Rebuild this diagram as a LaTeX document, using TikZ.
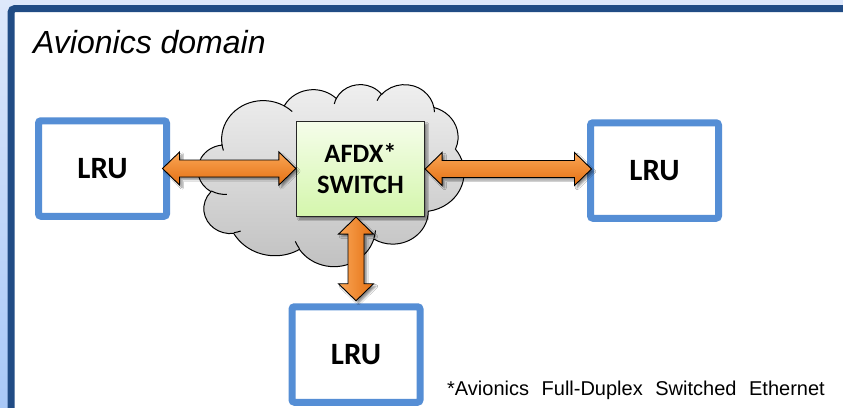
\documentclass[tikz,border=0pt]{standalone}
\usepackage{fontspec}
\newfontfamily\calib{Carlito}
\newfontfamily\arialf{Liberation Sans}
\usetikzlibrary{calc,shadows.blur}

\definecolor{framebl}{RGB}{33,76,133}
\definecolor{bgtop}{RGB}{222,232,251}
\definecolor{bgbot}{RGB}{168,200,247}
\definecolor{lrubl}{RGB}{85,142,213}
\definecolor{orgtop}{RGB}{250,166,86}
\definecolor{orgbot}{RGB}{228,112,18}
\definecolor{swtop}{RGB}{245,253,234}
\definecolor{swbot}{RGB}{212,246,172}
\definecolor{cldtop}{RGB}{240,240,240}
\definecolor{cldbot}{RGB}{192,192,192}

\tikzset{
  lrubox/.style={draw=lrubl, line width=7pt, rounded corners=2.5pt, fill=white,
    minimum width=128pt, minimum height=95.5pt, inner sep=0pt, outer sep=0pt,
    font=\calib\bfseries\fontsize{31}{36}\selectfont},
  switchbox/.style={draw=black!85, line width=1.2pt, top color=swtop, bottom color=swbot,
    minimum width=128pt, minimum height=95pt, inner sep=0pt, align=center,
    font=\calib\bfseries\fontsize{26.5}{31}\selectfont,
    blur shadow={shadow xshift=2.5pt, shadow yshift=-2.5pt, shadow opacity=45, shadow blur steps=6}},
  blockarrow/.style={draw=black, line width=0.9pt, line join=miter,
    blur shadow={shadow xshift=2.5pt, shadow yshift=-2.5pt, shadow opacity=45, shadow blur steps=6}},
  harrowfill/.style={top color=orgtop, bottom color=orgbot},
  varrowfill/.style={left color=orgtop, right color=orgbot},
  cloudshape/.style={draw=black, line width=1pt, top color=cldtop, bottom color=cldbot},
  cloudline/.style={draw=black, line width=1pt},
}

% double-headed block arrow between two points (horizontal / vertical)
\newcommand\hblockarrow[2]{%
  \path[blockarrow,harrowfill] let \p1=(#1), \p2=(#2) in
    (\x1,\y1) -- (\x1+17pt,\y1+16.5pt) -- (\x1+17pt,\y1+8.5pt) -- (\x2-17pt,\y1+8.5pt)
    -- (\x2-17pt,\y1+16.5pt) -- (\x2,\y1) -- (\x2-17pt,\y1-16.5pt) -- (\x2-17pt,\y1-8.5pt)
    -- (\x1+17pt,\y1-8.5pt) -- (\x1+17pt,\y1-16.5pt) -- cycle;}
\newcommand\vblockarrow[2]{%
  \path[blockarrow,varrowfill] let \p1=(#1), \p2=(#2) in
    (\x2,\y1) -- (\x2+17.5pt,\y1-17pt) -- (\x2+8pt,\y1-17pt) -- (\x2+8pt,\y2+17pt)
    -- (\x2+17.5pt,\y2+17pt) -- (\x2,\y2) -- (\x2-17.5pt,\y2+17pt) -- (\x2-8pt,\y2+17pt)
    -- (\x2-8pt,\y1-17pt) -- (\x2-17.5pt,\y1-17pt) -- cycle;}

\begin{document}
\begin{tikzpicture}[x=1pt, y=-1pt]
  \useasboundingbox (0,0) rectangle (843,407);
  \clip (0,0) rectangle (843,407);

  % page background and domain frame
  \shade[top color=bgtop, bottom color=bgbot] (0,0) rectangle (843,407);
  \draw[framebl, line width=7pt, fill=white, rounded corners=4pt] (11,8.5) rectangle (870,440);
  \node[anchor=base west, inner sep=0pt] (title) at (33,53.5)
    {\arialf\itshape\fontsize{32}{38}\selectfont Avionics domain};

  % network cloud
  \begin{scope}[shift={(198,84)}, x=0.6157pt, y=-0.4213pt]
    \path[cloudshape] (39.00,143.70)
      arc[start angle=-187.75, delta angle=128.12, x radius=67.53, y radius=91.90]
      arc[start angle=-152.02, delta angle=106.55, x radius=53.33, y radius=72.67]
      arc[start angle=-153.48, delta angle=116.16, x radius=43.65, y radius=59.45]
      arc[start angle=-139.71, delta angle=129.50, x radius=48.57, y radius=65.95]
      arc[start angle=-74.77, delta angle=97.98, x radius=53.33, y radius=72.73]
      arc[start angle=-37.52, delta angle=119.38, x radius=67.75, y radius=92.20]
      arc[start angle=0.46, delta angle=121.50, x radius=57.85, y radius=78.67]
      arc[start angle=16.84, delta angle=129.41, x radius=67.52, y radius=92.15]
      arc[start angle=59.02, delta angle=91.14, x radius=77.20, y radius=105.43]
      arc[start angle=-276.70, delta angle=139.79, x radius=43.60, y radius=59.18]
      arc[start angle=-239.62, delta angle=143.73, x radius=43.45, y radius=59.45]
      -- cycle;
    \draw[cloudline] (46.93,261.77) arc[start angle=85.54, delta angle=34.84, x radius=43.45, y radius=59.45];
    \draw[cloudline] (69.28,348.99) arc[start angle=68.25, delta angle=15.05, x radius=43.60, y radius=59.18];
    \draw[cloudline] (164.78,390.90) arc[start angle=146.25, delta angle=12.23, x radius=67.52, y radius=92.15];
    \draw[cloudline] (288.27,347.51) arc[start angle=4.74, delta angle=12.10, x radius=67.52, y radius=92.15];
    \draw[cloudline] (383.24,54.26) arc[start angle=-10.21, delta angle=11.03, x radius=48.57, y radius=65.95];
    \draw[cloudline] (290.78,39.52) arc[start angle=-156.29, delta angle=16.58, x radius=48.57, y radius=65.95];
    \draw[cloudline] (221.41,47.20) arc[start angle=-167.73, delta angle=14.25, x radius=43.65, y radius=59.45];
    \draw[cloudline] (140.00,51.92) arc[start angle=-59.63, delta angle=13.89, x radius=67.53, y radius=91.90];
    \draw[cloudline] (41.27,157.89) arc[start angle=163.19, delta angle=9.06, x radius=67.53, y radius=91.90];
  \end{scope}

  % switch and line replaceable units
  \node[switchbox] (sw) at (360.5,169) {AFDX*\\SWITCH};
  \node[lrubox] (lruL) at (102.5,168.5) {LRU};
  \node[lrubox] (lruR) at (654.5,170.5) {LRU};
  \node[lrubox] (lruB) at (356,354.5) {LRU};

  % full-duplex links
  \coordinate (aL) at ([xshift=-4pt]lruL.east);
  \coordinate (aR) at ([xshift=1pt]lruR.west);
  \coordinate (aB) at ([yshift=6pt]lruB.north);
  \coordinate (aT) at (aB |- sw.south);
  \hblockarrow{aL}{sw.west}
  \hblockarrow{sw.east}{aR}
  \vblockarrow{aT}{aB}

  \node[anchor=base west, inner sep=0pt] (note) at (447,395)
    {\arialf\fontsize{20}{24}\selectfont\spaceskip=12.6pt *Avionics Full-Duplex Switched Ethernet};
\end{tikzpicture}
\end{document}
